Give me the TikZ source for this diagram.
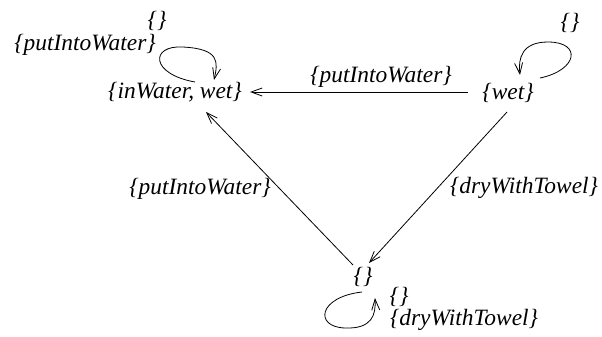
\documentclass[tikz,border=0pt]{standalone}
\usepackage{fontspec}
\setmainfont{Liberation Serif}[ItalicFont={Liberation Serif Italic}]
\usetikzlibrary{arrows.meta}
\begin{document}
\begin{tikzpicture}[x=1bp,y=-1bp,
  every node/.style={font=\fontsize{23.5}{25}\selectfont\itshape, inner sep=0pt},
  state/.style={},
  lbl/.style={},
  arr/.style={line width=0.8bp, -{Straight Barb[length=11bp,width=8bp,line width=0.8bp]}}]
\useasboundingbox (0,0) rectangle (602,336);

% states
\node[state] (A) at (175,92) {\{inWater, wet\}};
\node[state] (B) at (508,93) {\{wet\}};
\node[state] (C) at (363,277) {\{\}};

% self loops
\draw[arr] ([shift={(20,-10)}]A.center) .. controls (150,74) and (150,45) .. (183,47)
  .. controls (220,49) and (218,62) .. ([shift={(39,-12)}]A.center);
\node[lbl] (lA1) at (157,21) {\{\}};
\node[lbl] (lA2) at (85,45) {\{putIntoWater\}};

\draw[arr] ([shift={(32,-15)}]B.center) .. controls (578,70) and (582,42) .. (548,42)
  .. controls (522,42) and (518,58) .. ([shift={(12,-18)}]B.center);
\node[lbl] (lB1) at (570,23) {\{\}};

\draw[arr] ([shift={(-1,15)}]C.center) .. controls (318,297) and (314,327) .. (345,328)
  .. controls (372,329) and (376,315) .. ([shift={(12,21)}]C.center);
\node[lbl] (lC1) at (399,297) {\{\}};
\node[lbl] (lC2) at (464,320) {\{dryWithTowel\}};

% transitions
\draw[arr] ([shift={(-40,-1)}]B.center) -- ([shift={(75,0)}]A.center);
\node[lbl] (e1) at (381,77) {\{putIntoWater\}};

\draw[arr] ([shift={(-1,19)}]B.center) -- ([shift={(6,-14)}]C.center);
\node[lbl] (e2) at (524,188) {\{dryWithTowel\}};

\draw[arr] ([shift={(-10,-12)}]C.center) -- ([shift={(31,20)}]A.center);
\node[lbl] (e3) at (200,189) {\{putIntoWater\}};
\end{tikzpicture}
\end{document}
